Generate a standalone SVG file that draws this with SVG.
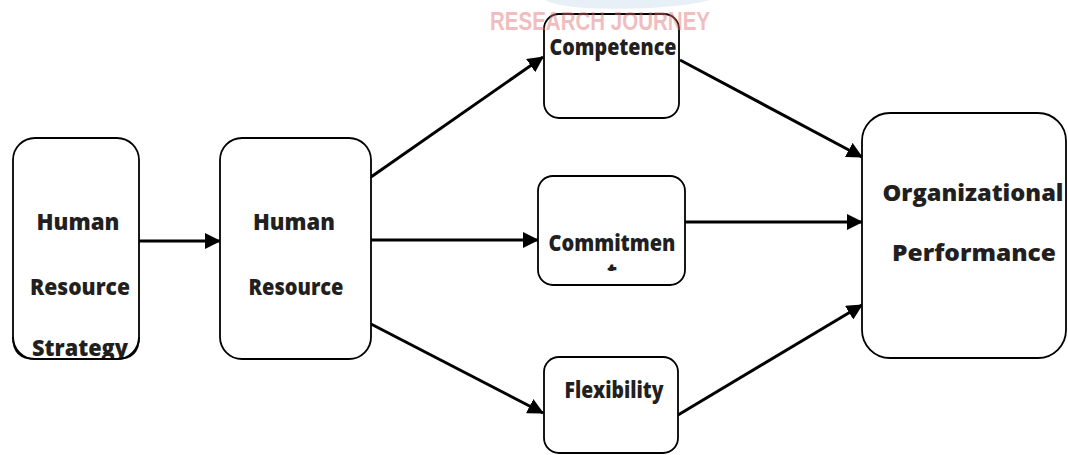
<svg xmlns="http://www.w3.org/2000/svg" width="1068" height="455" viewBox="0 0 1068 455">
<style>
.box{fill:#fff;stroke:#000;stroke-width:1.8}
.lbl{font-family:"Open Sans","Noto Sans","Liberation Sans",sans-serif;font-weight:800;font-size:22px;fill:#231f20;text-anchor:middle}
.con{stroke:#000;stroke-width:3;fill:none;marker-end:url(#ah)}
.wm{font-family:"Liberation Sans",sans-serif;font-weight:bold;font-size:26px;fill:#e07070;opacity:0.45}
</style>
<defs>
<marker id="ah" markerWidth="16" markerHeight="16" viewBox="0 0 16 16" refX="15" refY="8" orient="auto" markerUnits="userSpaceOnUse">
<path d="M0,0 L16,8 L0,16 Z" fill="#000"/>
</marker>
<clipPath id="c1"><rect x="13" y="138" width="126" height="220"/></clipPath>
<clipPath id="c3"><rect x="538" y="176" width="147" height="95"/></clipPath>
</defs>
<g id="connectors">
<line class="con" x1="139" y1="241" x2="220" y2="241"/>
<line class="con" x1="371" y1="177" x2="543" y2="57"/>
<line class="con" x1="371" y1="240" x2="538" y2="240"/>
<line class="con" x1="371" y1="324" x2="543" y2="413"/>
<line class="con" x1="680" y1="60" x2="862" y2="157"/>
<line class="con" x1="685" y1="222" x2="862" y2="222"/>
<line class="con" x1="678" y1="415" x2="862" y2="305"/>
</g>
<g id="hr-strategy">
<rect class="box" x="13" y="138" width="126" height="221" rx="22"/>
<text class="lbl" x="78" y="230" textLength="83" lengthAdjust="spacingAndGlyphs">Human</text>
<text class="lbl" x="80" y="295" textLength="100" lengthAdjust="spacingAndGlyphs">Resource</text>
<text class="lbl" x="80" y="356" textLength="96" lengthAdjust="spacingAndGlyphs" clip-path="url(#c1)">Strategy</text>
<path d="M13,337 Q13,359 35,359 L117,359 Q139,359 139,337" fill="none" stroke="#000" stroke-width="1.8"/>
</g>
<g id="hr-management">
<rect class="box" x="220" y="138" width="151" height="221" rx="22"/>
<text class="lbl" x="294" y="230" textLength="82" lengthAdjust="spacingAndGlyphs">Human</text>
<text class="lbl" x="296" y="295" textLength="95" lengthAdjust="spacingAndGlyphs">Resource</text>
</g>
<g id="competence">
<rect class="box" x="544" y="14" width="135" height="104" rx="15"/>
<text class="lbl" x="613" y="55" textLength="127" lengthAdjust="spacingAndGlyphs">Competence</text>
</g>
<g id="commitment">
<rect class="box" x="538" y="176" width="147" height="109" rx="15"/>
<text class="lbl" x="612" y="251" textLength="127" lengthAdjust="spacingAndGlyphs">Commitmen</text>
<text class="lbl" x="612" y="280" font-size="17" clip-path="url(#c3)">t</text>
</g>
<g id="flexibility">
<rect class="box" x="544" y="357" width="134" height="96" rx="15"/>
<text class="lbl" x="614" y="398" textLength="99" lengthAdjust="spacingAndGlyphs">Flexibility</text>
</g>
<g id="org-performance">
<rect class="box" x="862" y="113" width="204" height="245" rx="28"/>
<text class="lbl" x="973" y="201" textLength="181" lengthAdjust="spacingAndGlyphs">Organizational</text>
<text class="lbl" x="974" y="261" textLength="164" lengthAdjust="spacingAndGlyphs">Performance</text>
</g>
<g id="watermark">
<path d="M545,0 C560,8 600,10 650,8 C680,6 700,3 710,0 Z" fill="#cfe0f0" opacity="0.5"/>
<text class="wm" x="490" y="30" textLength="220" lengthAdjust="spacingAndGlyphs">RESEARCH JOURNEY</text>
</g>
</svg>
